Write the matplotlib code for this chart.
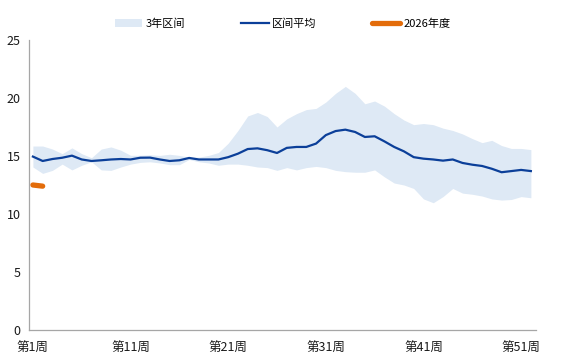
import numpy as np
import matplotlib
matplotlib.use("Agg")
import matplotlib.pyplot as plt

plt.rcParams['font.family'] = ['Noto Sans CJK SC', 'DejaVu Sans']

weeks = np.arange(1, 53)

# 3-year range (lower / upper) and its average
band_low = [14.05, 13.5, 13.76, 14.3, 13.8, 14.2, 14.5, 13.8, 13.76, 14.05,
            14.3, 14.45, 14.5, 14.4, 14.25, 14.25, 14.7, 14.5, 14.4, 14.2,
            14.3, 14.3, 14.2, 14.05, 14.0, 13.76, 14.0, 13.8, 14.0, 14.1,
            14.0, 13.76, 13.65, 13.6, 13.6, 13.8, 13.2, 12.67, 12.5, 12.2,
            11.3, 10.97, 11.5, 12.2, 11.8, 11.7, 11.55, 11.3, 11.2, 11.25,
            11.5, 11.4]
band_high = [15.86, 15.86, 15.6, 15.2, 15.7, 15.2, 14.85, 15.6, 15.78, 15.5,
             15.06, 15.06, 15.1, 15.05, 15.15, 15.05, 14.9, 14.9, 15.05, 15.3,
             16.1, 17.2, 18.45, 18.75, 18.4, 17.5, 18.2, 18.65, 19.0, 19.1,
             19.65, 20.4, 21.0, 20.4, 19.5, 19.74, 19.3, 18.65, 18.1, 17.7,
             17.8, 17.7, 17.4, 17.2, 16.9, 16.5, 16.15, 16.35, 15.9, 15.65,
             15.65, 15.55]
avg = [14.95, 14.57, 14.74, 14.85, 15.03, 14.7, 14.57, 14.63, 14.7, 14.74,
       14.7, 14.85, 14.86, 14.7, 14.57, 14.63, 14.83, 14.7, 14.7, 14.7,
       14.9, 15.2, 15.6, 15.66, 15.5, 15.26, 15.7, 15.78, 15.78, 16.07,
       16.8, 17.15, 17.27, 17.07, 16.64, 16.7, 16.26, 15.78, 15.4, 14.9,
       14.77, 14.7, 14.6, 14.7, 14.4, 14.25, 14.14, 13.9, 13.6, 13.7,
       13.8, 13.7]

# 2026 so far
weeks_2026 = [1, 2]
val_2026 = [12.5, 12.4]

tick_weeks = [1, 11, 21, 31, 41, 51]
tick_labels = [f"第{w}周" for w in tick_weeks]

fig = plt.figure(figsize=(5.73, 3.57), dpi=100)
ax = fig.add_axes([0.0506, 0.0756, 0.8844, 0.8124])

ax.fill_between(weeks, band_low, band_high, color='#DEE9F5', lw=0, label='3年区间')
ax.plot(weeks, avg, color='#0B3F99', lw=1.6, label='区间平均')
ax.plot(weeks_2026, val_2026, color='#E36C0A', lw=3.8, solid_capstyle='round',
        label='2026年度')

ax.set_xlim(0.6, 52.5)
ax.set_ylim(0, 25)
ax.set_yticks([0, 5, 10, 15, 20, 25])
ax.set_xticks(tick_weeks)
ax.set_xticklabels(tick_labels)
ax.tick_params(axis='both', length=0, labelsize=9, colors='#1a1a1a')
ax.tick_params(axis='y', pad=6)
ax.tick_params(axis='x', pad=8.5)

for side in ['top', 'right']:
    ax.spines[side].set_visible(False)
for side in ['left', 'bottom']:
    ax.spines[side].set_color('#A6A6A6')
    ax.spines[side].set_linewidth(0.9)

fig.legend(loc='center', bbox_to_anchor=(0.493, 0.933), ncol=3, frameon=False,
           fontsize=8, handlelength=2.5, handletextpad=0.3, columnspacing=5.0)

plt.savefig('out.png', dpi=100)
